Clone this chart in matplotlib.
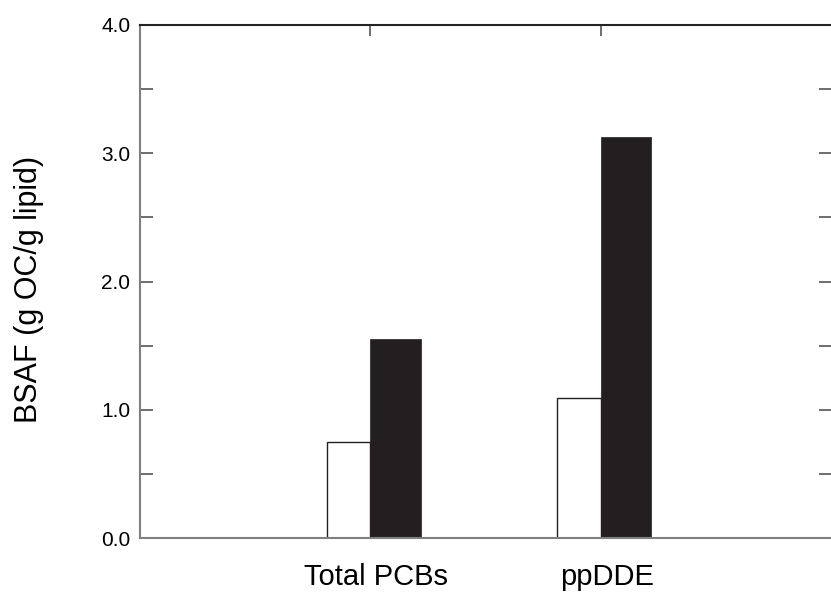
import matplotlib
matplotlib.use("Agg")
import matplotlib.pyplot as plt
import matplotlib.transforms as mtransforms
import numpy as np

plt.rcParams['font.family'] = ['Liberation Sans', 'DejaVu Sans']

# data
categories = ["Total PCBs", "ppDDE"]
open_vals = [0.75, 1.09]    # white bars
filled_vals = [1.55, 3.13]  # black bars
ytick_vals = [0.0, 1.0, 2.0, 3.0, 4.0]
ytick_labels = ["0.0", "1.0", "2.0", "3.0", "4.0"]

W, H = 831, 594
fig = plt.figure(figsize=(W / 100, H / 100), dpi=100)
ax = fig.add_axes([140 / W, (H - 538) / H, 691 / W, 513 / H])

pos = np.arange(1, len(categories) + 1)
ax.bar(pos, open_vals, width=-0.19, align='edge', facecolor='white',
       edgecolor='#231f20', linewidth=1.0, zorder=2)
ax.bar(pos, filled_vals, width=0.22, align='edge', facecolor='#231f20',
       edgecolor='#231f20', linewidth=0.5, zorder=2)

ax.set_xlim(0, 3)
ax.set_ylim(0, 4.0)

ax.set_yticks(ytick_vals)
ax.set_yticklabels(ytick_labels, fontsize=15)
ax.set_yticks(np.arange(0.5, 4.0, 1.0), minor=True)
ax.tick_params(axis='y', which='both', direction='in', length=9, width=1.2,
               color='#555555', pad=7, right=True)

ax.set_xticks(pos)
ax.set_xticklabels(categories, fontsize=21)
ax.tick_params(axis='x', which='both', direction='in', length=8, width=1.2,
               color='#555555', bottom=False, top=True, pad=18)
offset = mtransforms.ScaledTranslation(6 / 100, 0, fig.dpi_scale_trans)
for lbl in ax.get_xticklabels():
    lbl.set_transform(lbl.get_transform() + offset)

ax.spines['left'].set_color('#808080')
ax.spines['left'].set_linewidth(1.5)
ax.spines['bottom'].set_color('#808080')
ax.spines['bottom'].set_linewidth(1.5)
ax.spines['top'].set_color('#222222')
ax.spines['top'].set_linewidth(1.5)
ax.spines['right'].set_visible(False)

fig.text(29 / W, 1 - 289 / H, "BSAF (g OC/g lipid)", fontsize=22,
         rotation=90, ha='center', va='center')

fig.savefig("out.png", dpi=100)
